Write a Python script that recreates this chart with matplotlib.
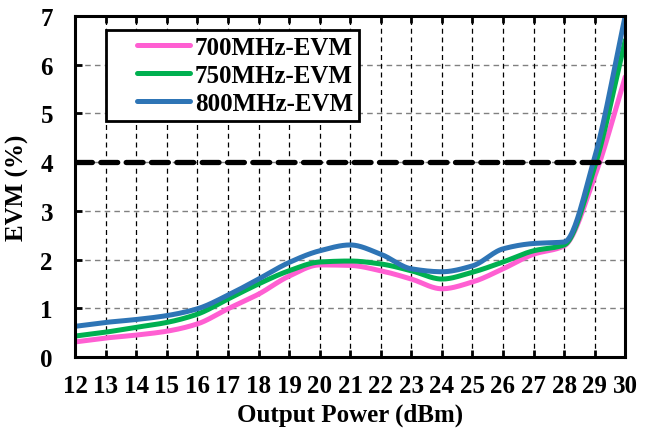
import numpy as np
import matplotlib
matplotlib.use('Agg')
import matplotlib.pyplot as plt
from matplotlib.legend_handler import HandlerLine2D

plt.rcParams['font.family'] = ['Liberation Serif', 'DejaVu Serif']
plt.rcParams['font.weight'] = 'bold'

# data
power = [12, 13, 14, 15, 16, 17, 18, 19, 20, 21, 22, 23, 24, 25, 26, 27, 28, 29, 30]
evm_700 = [0.31, 0.39, 0.45, 0.53, 0.68, 0.99, 1.29, 1.66, 1.89, 1.88, 1.77, 1.60, 1.40, 1.54, 1.81, 2.11, 2.28, 3.70, 5.75]
evm_750 = [0.43, 0.51, 0.61, 0.71, 0.88, 1.19, 1.50, 1.77, 1.95, 1.97, 1.91, 1.77, 1.60, 1.74, 1.95, 2.18, 2.30, 3.90, 6.50]
evm_800 = [0.63, 0.71, 0.77, 0.85, 0.99, 1.27, 1.60, 1.94, 2.18, 2.30, 2.11, 1.81, 1.75, 1.87, 2.22, 2.33, 2.36, 4.10, 7.00]
limit = 4

labels = ['700MHz-EVM', '750MHz-EVM', '800MHz-EVM']
colors = ['#FF5FD2', '#00B050', '#2E75B6']


def smooth(x, y, n=25):
    # monotone cubic (pchip style) so the knee at 28 dBm doesn't overshoot
    x = np.asarray(x, float)
    y = np.asarray(y, float)
    h = np.diff(x)
    d = np.diff(y) / h
    m = np.zeros_like(y)
    for i in range(1, len(y)-1):
        if d[i-1]*d[i] > 0:
            w1 = 2*h[i] + h[i-1]
            w2 = h[i] + 2*h[i-1]
            m[i] = (w1 + w2) / (w1/d[i-1] + w2/d[i])
    m[0] = d[0]
    m[-1] = d[-1]
    xs, ys = [], []
    t = np.linspace(0, 1, n, endpoint=False)
    for i in range(len(x)-1):
        h00 = 2*t**3 - 3*t**2 + 1
        h10 = t**3 - 2*t**2 + t
        h01 = -2*t**3 + 3*t**2
        h11 = t**3 - t**2
        xs.extend(x[i] + t*h[i])
        ys.extend(h00*y[i] + h10*h[i]*m[i] + h01*y[i+1] + h11*h[i]*m[i+1])
    xs.append(x[-1])
    ys.append(y[-1])
    return np.array(xs), np.array(ys)


fig = plt.figure(figsize=(6.54, 4.35), dpi=100)
ax = fig.add_axes([0.115, 0.177, 0.841, 0.784])

for yy, lab, c in zip([evm_700, evm_750, evm_800], labels, colors):
    sx, sy = smooth(power, yy)
    ax.plot(sx, sy, color=c, lw=3.6, label=lab, solid_capstyle='round')

ax.plot([power[0], power[-1]], [limit, limit], color='black', lw=3.8,
        dashes=(3.2, 1.6), dash_capstyle='round')

ax.set_xlim(12, 30)
ax.set_ylim(0, 7)
ax.set_xticks(power)
ax.set_yticks(range(0, 8))
for v in range(1, 7):
    ax.axhline(v, color='#808080', lw=1.0, ls=(0, (4, 3)), zorder=0)
for v in power[1:-1]:
    ax.axvline(v, color='black', lw=0.9, ls=(0, (4, 3)), zorder=0)

for s in ax.spines.values():
    s.set_linewidth(2.2)
ax.tick_params(direction='in', top=True, width=2, length=5, labelsize=18, pad=12)
ax.tick_params(axis='y', pad=16)
ax.set_xlabel('Output Power (dBm)', fontsize=18, fontweight='bold', labelpad=4)
ax.set_ylabel('EVM (%)', fontsize=18, fontweight='bold', labelpad=8)

leg = ax.legend(loc='upper left', bbox_to_anchor=(0.056, 0.96), fontsize=18,
                fancybox=False, framealpha=1, edgecolor='black', handlelength=3.1,
                borderpad=0.25, labelspacing=0.2, handletextpad=0.2, borderaxespad=0,
                handler_map={plt.Line2D: HandlerLine2D(xpad=1.0)})
leg.get_frame().set_linewidth(2)

fig.savefig('out.png', dpi=100)
